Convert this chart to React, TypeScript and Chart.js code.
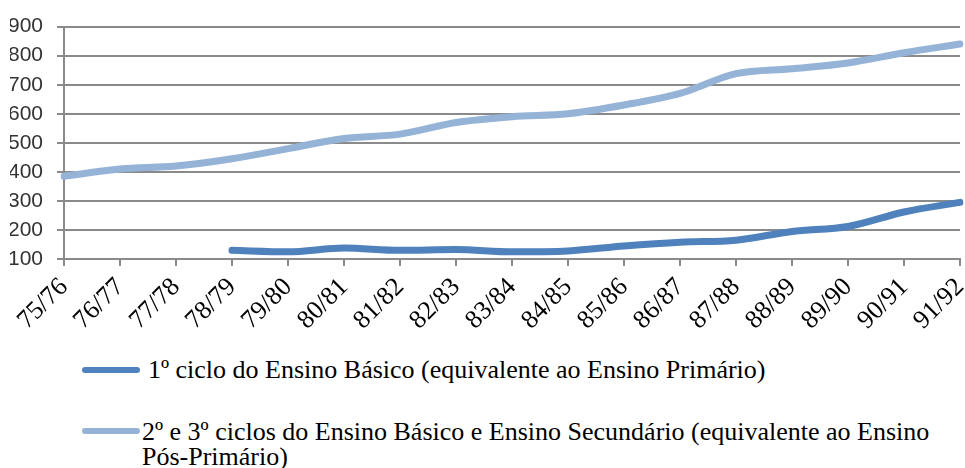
import React, { useEffect, useRef } from "react";
import { Chart, registerables } from "chart.js";

Chart.register(...registerables);

const categories = [
  "75/76", "76/77", "77/78", "78/79", "79/80", "80/81", "81/82", "82/83", "83/84",
  "84/85", "85/86", "86/87", "87/88", "88/89", "89/90", "90/91", "91/92",
];

const primario: (number | null)[] = [
  null, null, null, 130, 125, 138, 130, 133, 125, 128, 145, 158, 165, 195, 212, 262, 295,
];

const posPrimario: number[] = [
  385, 410, 420, 445, 480, 515, 530, 570, 590, 600, 630, 670, 738, 755, 775, 810, 840,
];

const seriesLabels = [
  "1º ciclo do Ensino Básico (equivalente ao Ensino Primário)",
  "2º e 3º ciclos do Ensino Básico e Ensino Secundário (equivalente ao Ensino Pós-Primário)",
];

const yMin = 100;
const yMax = 900;
const yStep = 100;

const darkBlue = "#4F81BD";
const lightBlue = "#95B3D7";
const gridColor = "#8a8a8a";

export default function App() {
  const canvasRef = useRef<HTMLCanvasElement | null>(null);

  useEffect(() => {
    document.body.style.margin = "0";
    const canvas = canvasRef.current;
    if (!canvas) return;
    const chart = new Chart(canvas, {
      type: "line",
      data: {
        labels: categories,
        datasets: [
          {
            label: seriesLabels[0],
            data: primario,
            borderColor: darkBlue,
            backgroundColor: darkBlue,
            borderWidth: 7,
            pointRadius: 0,
            cubicInterpolationMode: "monotone",
            borderCapStyle: "round",
            borderJoinStyle: "round",
            spanGaps: false,
          },
          {
            label: seriesLabels[1],
            data: posPrimario,
            borderColor: lightBlue,
            backgroundColor: lightBlue,
            borderWidth: 7,
            pointRadius: 0,
            cubicInterpolationMode: "monotone",
            borderCapStyle: "round",
            borderJoinStyle: "round",
          },
        ],
      },
      options: {
        responsive: false,
        animation: false,
        maintainAspectRatio: false,
        layout: { padding: { top: 16, right: 5, left: 10, bottom: 0 } },
        plugins: { legend: { display: false }, tooltip: { enabled: false } },
        scales: {
          x: {
            offset: false,
            afterFit: (scale: any) => {
              scale.paddingLeft = 0;
              scale.paddingRight = 0;
            },
            grid: {
              drawOnChartArea: false,
              drawTicks: true,
              tickLength: 7,
              color: gridColor,
              lineWidth: 2,
            },
            border: { display: true, color: gridColor, width: 2 },
            ticks: {
              autoSkip: false,
              maxRotation: 45,
              minRotation: 45,
              padding: 6,
              color: "#000",
              font: { family: "'Liberation Serif', serif", size: 26 },
            },
          },
          y: {
            min: yMin,
            max: yMax,
            afterFit: (scale: any) => {
              scale.width = 54;
            },
            grid: {
              color: gridColor,
              lineWidth: 2,
              tickLength: 7,
              drawTicks: true,
            },
            border: { display: true, color: gridColor, width: 2 },
            ticks: {
              stepSize: yStep,
              padding: 14,
              color: "#333",
              font: { family: "'Liberation Sans', sans-serif", size: 21 },
            },
          },
        },
      },
    });
    return () => chart.destroy();
  }, []);

  const textStyle: React.CSSProperties = {
    position: "absolute",
    fontFamily: "'Liberation Serif', serif",
    fontSize: 26,
    lineHeight: "25px",
    color: "#000",
    whiteSpace: "normal",
  };

  return (
    <div
      style={{
        position: "absolute",
        left: 0,
        top: 0,
        width: 965,
        height: 468,
        overflow: "hidden",
        background: "#fff",
      }}
    >
      <canvas
        ref={canvasRef}
        width={965}
        height={342}
        style={{ position: "absolute", left: 0, top: 0, width: 965, height: 342 }}
      />
      <div
        style={{
          position: "absolute",
          left: 82,
          top: 367,
          width: 58,
          height: 6,
          borderRadius: 3,
          background: darkBlue,
        }}
      />
      <div style={{ ...textStyle, left: 148, top: 357, width: 800 }}>{seriesLabels[0]}</div>
      <div
        style={{
          position: "absolute",
          left: 82,
          top: 428,
          width: 58,
          height: 6,
          borderRadius: 3,
          background: lightBlue,
        }}
      />
      <div style={{ ...textStyle, left: 142, top: 419, width: 800 }}>{seriesLabels[1]}</div>
    </div>
  );
}
